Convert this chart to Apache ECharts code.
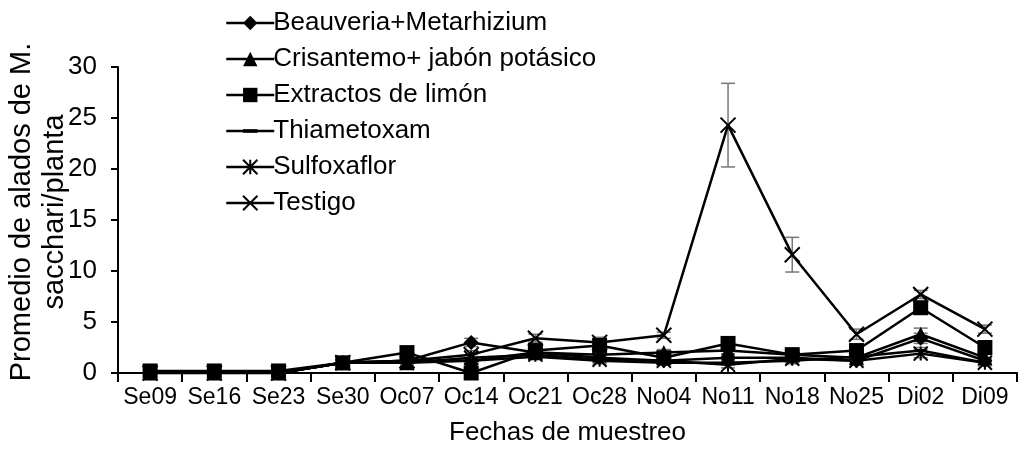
<!DOCTYPE html>
<html>
<head>
<meta charset="utf-8">
<script src="https://cdn.jsdelivr.net/npm/echarts@6/dist/echarts.min.js"></script>
<style>
  html, body { margin: 0; padding: 0; background: #fff; }
  #chart { width: 1020px; height: 451px; }
</style>
</head>
<body>
<div id="chart"></div>
<script>
// fechas de muestreo
var fechas = ['Se09', 'Se16', 'Se23', 'Se30', 'Oc07', 'Oc14', 'Oc21', 'Oc28', 'No04', 'No11', 'No18', 'No25', 'Di02', 'Di09'];
var yTicks = [0, 5, 10, 15, 20, 25, 30];

// promedios por tratamiento
var beauveria   = [0, 0, 0, 1.0, 1.2, 3.0, 2.0, 1.5, 1.2, 1.5, 1.5, 1.2, 3.4, 1.2];
var crisantemo  = [0, 0, 0, 1.0, 1.0, 1.2, 2.0, 1.8, 2.0, 2.2, 1.8, 1.5, 3.8, 1.5];
var limon       = [0.2, 0.2, 0.2, 1.0, 2.0, 0, 2.2, 2.7, 1.5, 2.9, 1.8, 2.2, 6.4, 2.5];
var thiametoxam = [0, 0, 0, 1.0, 1.2, 1.2, 1.6, 1.2, 1.0, 1.0, 1.2, 1.6, 2.2, 1.0];
var sulfoxaflor = [0, 0, 0, 1.0, 1.0, 1.5, 1.8, 1.3, 1.2, 0.8, 1.4, 1.2, 1.9, 1.0];
var testigo     = [0, 0, 0, 1.0, 1.2, 1.8, 3.4, 3.0, 3.7, 24.3, 11.6, 3.8, 7.7, 4.3];

// error estandar
var errBeauveria   = [0, 0, 0, 0.3, 0.3, 0.4, 0.3, 0.3, 0.2, 0.3, 0.3, 0.2, 0.5, 0.2];
var errCrisantemo  = [0, 0, 0, 0.3, 0.3, 0.3, 0.4, 0.3, 0.3, 0.3, 0.3, 0.3, 0.6, 0.3];
var errLimon       = [0.3, 0.3, 0.3, 0.4, 0.3, 0.3, 0.8, 0.8, 0.4, 0.4, 0.5, 0.5, 0.5, 0.5];
var errThiametoxam = [0, 0, 0, 0.3, 0.3, 0.3, 0.3, 0.3, 0.2, 0.2, 0.3, 0.3, 0.3, 0.2];
var errSulfoxaflor = [0, 0, 0, 0.3, 0.3, 0.3, 0.3, 0.3, 0.3, 0.3, 0.3, 0.3, 0.4, 0.3];
var errTestigo     = [0, 0, 0, 0.3, 0.3, 0.4, 0.4, 0.3, 0.3, 4.1, 1.7, 0.5, 0.4, 0.4];

var nombres = ['Beauveria+Metarhizium', 'Crisantemo+ jabón potásico', 'Extractos de limón', 'Thiametoxam', 'Sulfoxaflor', 'Testigo'];

var chart = echarts.init(document.getElementById('chart'));

var FONT = '"Liberation Sans", Arial, sans-serif';

function linea(name, data, symbol, size) {
  return {
    name: name,
    type: 'line',
    data: data,
    symbol: symbol,
    symbolSize: size,
    showSymbol: true,
    z: 3,
    lineStyle: { color: '#000', width: 2.5 },
    itemStyle: { color: '#000', borderColor: '#000', borderWidth: 0 },
    emphasis: { disabled: true }
  };
}

// marcadores de trazos (asterisco y cruz)
function lineaTrazo(name, data, symbol, size) {
  var s = linea(name, data, symbol, size);
  s.itemStyle = { color: 'rgba(0,0,0,0)', borderColor: '#000', borderWidth: 2 };
  return s;
}

function barrasError(vals, errs) {
  var d = [];
  for (var i = 0; i < vals.length; i++) {
    if (errs[i] > 0) d.push([i, vals[i], errs[i]]);
  }
  return {
    type: 'custom',
    silent: true,
    z: 2,
    data: d,
    renderItem: function (params, api) {
      var i = api.value(0), v = api.value(1), e = api.value(2);
      var hi = api.coord([i, v + e]);
      var lo = api.coord([i, Math.max(0, v - e)]);
      var w = 7;
      var st = { stroke: '#777', lineWidth: 1.5 };
      return {
        type: 'group',
        children: [
          { type: 'line', shape: { x1: hi[0], y1: hi[1], x2: lo[0], y2: lo[1] }, style: st },
          { type: 'line', shape: { x1: hi[0] - w, y1: hi[1], x2: hi[0] + w, y2: hi[1] }, style: st },
          { type: 'line', shape: { x1: lo[0] - w, y1: lo[1], x2: lo[0] + w, y2: lo[1] }, style: st }
        ]
      };
    }
  };
}

var option = {
  animation: false,
  backgroundColor: '#fff',
  textStyle: { fontFamily: FONT, color: '#000' },
  grid: { left: 118, right: 3, top: 67, bottom: 73 },
  legend: {
    data: nombres,
    orient: 'vertical',
    left: 220,
    top: 5,
    itemWidth: 48,
    itemHeight: 18,
    itemGap: 10,
    selectedMode: false,
    lineStyle: { width: 2.5, color: '#000' },
    textStyle: { fontFamily: FONT, fontSize: 26, color: '#000', lineHeight: 26, padding: [0, 0, 0, -6] }
  },
  graphic: [{
    type: 'text',
    x: 38,
    y: 212,
    rotation: Math.PI / 2,
    style: {
      text: 'Promedio de alados de M.\nsacchari/planta',
      font: '29px ' + FONT,
      fill: '#000',
      align: 'center',
      verticalAlign: 'middle',
      lineHeight: 33
    }
  }],
  xAxis: {
    type: 'category',
    data: fechas,
    boundaryGap: true,
    name: 'Fechas de muestreo',
    nameLocation: 'middle',
    nameGap: 47,
    nameTextStyle: { fontSize: 26, color: '#000', fontFamily: FONT },
    axisLine: { lineStyle: { color: '#000', width: 2 } },
    axisTick: { show: true, length: 9, lineStyle: { color: '#000', width: 2 } },
    axisLabel: { interval: 0, fontSize: 23, color: '#000', margin: 13, fontFamily: FONT },
    splitLine: { show: false }
  },
  yAxis: {
    type: 'value',
    min: yTicks[0],
    max: yTicks[yTicks.length - 1],
    interval: 5,
    axisLine: { show: true, lineStyle: { color: '#000', width: 2 } },
    axisTick: { show: true, length: 7, lineStyle: { color: '#000', width: 2 } },
    axisLabel: { fontSize: 26, color: '#000', margin: 21, fontFamily: FONT },
    splitLine: { show: false }
  },
  series: [
    barrasError(beauveria, errBeauveria),
    barrasError(crisantemo, errCrisantemo),
    barrasError(limon, errLimon),
    barrasError(thiametoxam, errThiametoxam),
    barrasError(sulfoxaflor, errSulfoxaflor),
    barrasError(testigo, errTestigo),
    linea(nombres[0], beauveria, 'diamond', 15),
    linea(nombres[1], crisantemo, 'triangle', 15),
    linea(nombres[2], limon, 'rect', 15),
    // barra horizontal dentro de una caja cuadrada, para que la leyenda no la deforme
    linea(nombres[3], thiametoxam, 'path://M0,0M12,12M0,4.5L12,4.5L12,7.5L0,7.5Z', 12),
    lineaTrazo(nombres[4], sulfoxaflor, 'path://M0,0L10,10M10,0L0,10M5,0L5,10', 14),
    lineaTrazo(nombres[5], testigo, 'path://M0,0L10,10M10,0L0,10', 15)
  ]
};

chart.setOption(option);
</script>
</body>
</html>
